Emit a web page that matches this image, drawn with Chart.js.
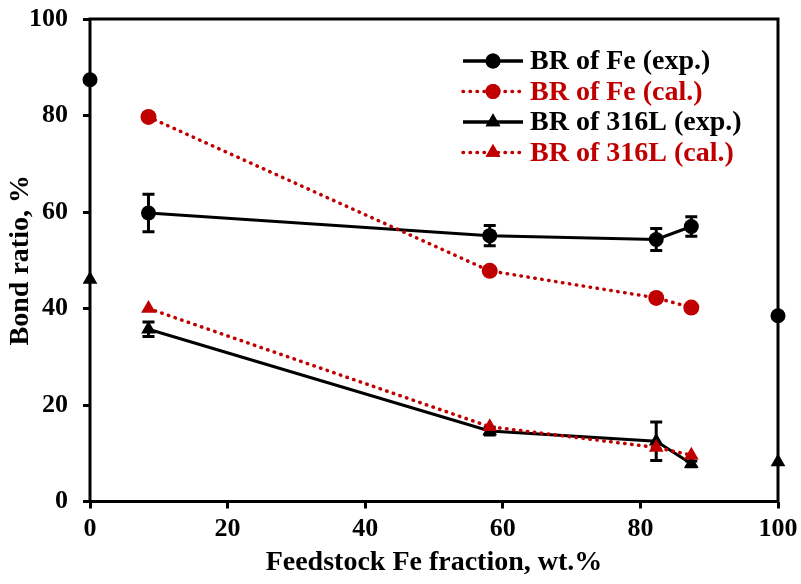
<!DOCTYPE html>
<html>
<head>
<meta charset="utf-8">
<script src="https://cdn.jsdelivr.net/npm/chart.js@4.4.1/dist/chart.umd.min.js"></script>
<style>
  html, body { margin: 0; padding: 0; background: #fff; }
  #wrap { width: 801px; height: 584px; }
</style>
</head>
<body>
<div id="wrap"><canvas id="bondChart" width="801" height="584"></canvas></div>
<script>
// Feedstock Fe fraction (wt.%) of the mixed feedstocks
var mixX = [8.5, 58.1, 82.3, 87.4];
var feExp = [59.8, 55.1, 54.3, 57.0];
var feExpErr = [3.9, 2.1, 2.3, 2.0];
var feCal = [79.7, 47.8, 42.2, 40.2];
var steelExp = [35.7, 14.6, 12.5, 7.8];
var steelExpErr = [1.5, 0.8, 4.0, 0.6];
var steelCal = [40.0, 15.5, 11.2, 9.6];

// pure feedstocks (not joined by the lines)
var pureX = [0, 100];
var pureFe = [87.4, 38.5];
var pureSteel = [46.0, 8.2];

var xTicks = [0, 20, 40, 60, 80, 100];
var yTicks = [0, 20, 40, 60, 80, 100];

var RED = '#c00000';
var FONT = '"Liberation Serif", "Times New Roman", serif';
var DOTS = [0.5, 6.5];

function pts(xs, ys) {
  return xs.map(function(x, i) { return { x: x, y: ys[i] }; });
}

// error bars drawn through the scales
var errorBars = {
  id: 'errorBars',
  beforeDatasetsDraw: function(chart) {
    var ctx = chart.ctx, xs = chart.scales.x, ys = chart.scales.y;
    var sets = [[feExp, feExpErr], [steelExp, steelExpErr]];
    ctx.save();
    ctx.strokeStyle = '#000';
    ctx.lineWidth = 3;
    sets.forEach(function(s) {
      s[0].forEach(function(v, i) {
        var px = xs.getPixelForValue(mixX[i]);
        var top = ys.getPixelForValue(v + s[1][i]);
        var bot = ys.getPixelForValue(v - s[1][i]);
        ctx.beginPath();
        ctx.moveTo(px, top); ctx.lineTo(px, bot);
        ctx.moveTo(px - 6, top); ctx.lineTo(px + 6, top);
        ctx.moveTo(px - 6, bot); ctx.lineTo(px + 6, bot);
        ctx.stroke();
      });
    });
    ctx.restore();
  }
};

// plot frame + legend with line/marker samples
var frameLegend = {
  id: 'frameLegend',
  beforeDatasetsDraw: function(chart) {
    var a = chart.chartArea, ctx = chart.ctx;
    ctx.save();
    ctx.strokeStyle = '#000';
    ctx.lineWidth = 3;
    ctx.strokeRect(a.left, a.top, a.right - a.left, a.bottom - a.top);
    ctx.restore();
  },
  afterDraw: function(chart) {
    var ctx = chart.ctx;
    var items = [
      { text: 'BR of Fe (exp.)', color: '#000', dash: [], shape: 'circle' },
      { text: 'BR of Fe (cal.)', color: RED, dash: DOTS, shape: 'circle' },
      { text: 'BR of 316L (exp.)', color: '#000', dash: [], shape: 'triangle' },
      { text: 'BR of 316L (cal.)', color: RED, dash: DOTS, shape: 'triangle' }
    ];
    var x0 = 463, x1 = 523, tx = 530, y0 = 61, dy = 30.5;
    ctx.save();
    ctx.font = 'bold 28px ' + FONT;
    ctx.textBaseline = 'middle';
    items.forEach(function(it, i) {
      var y = y0 + i * dy;
      ctx.strokeStyle = it.color;
      ctx.fillStyle = it.color;
      ctx.lineWidth = 3.5;
      ctx.lineCap = it.dash.length ? 'round' : 'butt';
      ctx.setLineDash(it.dash);
      ctx.beginPath();
      ctx.moveTo(x0, y); ctx.lineTo(x1, y);
      ctx.stroke();
      ctx.setLineDash([]);
      Chart.helpers.drawPoint(ctx, { pointStyle: it.shape, radius: it.shape === 'circle' ? 7.5 : 8.5, borderWidth: 0 }, (x0 + x1) / 2, y);
      ctx.fill();
      ctx.fillText(it.text, tx, y + 1);
    });
    ctx.restore();
  }
};

var canvas = document.getElementById('bondChart');
new Chart(canvas, {
  type: 'scatter',
  data: {
    datasets: [
      { label: 'BR of 316L (cal.)', data: pts(mixX, steelCal), showLine: true, order: 1,
        borderColor: RED, borderWidth: 3.5, borderDash: DOTS, borderCapStyle: 'round',
        pointStyle: 'triangle', pointRadius: 8.5, pointBackgroundColor: RED, pointBorderWidth: 0 },
      { label: 'BR of Fe (cal.)', data: pts(mixX, feCal), showLine: true, order: 2,
        borderColor: RED, borderWidth: 3.5, borderDash: DOTS, borderCapStyle: 'round',
        pointStyle: 'circle', pointRadius: 8, pointBackgroundColor: RED, pointBorderWidth: 0 },
      { label: 'BR of 316L (exp.)', data: pts(mixX, steelExp), showLine: true, order: 3,
        borderColor: '#000', borderWidth: 3,
        pointStyle: 'triangle', pointRadius: 8.5, pointBackgroundColor: '#000', pointBorderWidth: 0 },
      { label: 'BR of Fe (exp.)', data: pts(mixX, feExp), showLine: true, order: 4,
        borderColor: '#000', borderWidth: 3,
        pointStyle: 'circle', pointRadius: 7.5, pointBackgroundColor: '#000', pointBorderWidth: 0 },
      { label: 'Fe pure', data: pts(pureX, pureFe), showLine: false, order: 5,
        pointStyle: 'circle', pointRadius: 7.5, pointBackgroundColor: '#000', pointBorderWidth: 0 },
      { label: '316L pure', data: pts(pureX, pureSteel), showLine: false, order: 6,
        pointStyle: 'triangle', pointRadius: 8.5, pointBackgroundColor: '#000', pointBorderWidth: 0 }
    ]
  },
  options: {
    responsive: false,
    animation: false,
    clip: false,
    layout: { padding: { top: 19, right: 23, left: 0, bottom: 0 } },
    plugins: { legend: { display: false }, tooltip: { enabled: false } },
    scales: {
      x: {
        type: 'linear', min: 0, max: 100,
        afterFit: function(s) { s.height = 82.5; s.paddingLeft = 0; s.paddingRight = 0; },
        afterBuildTicks: function(s) { s.ticks = xTicks.map(function(v) { return { value: v }; }); },
        grid: { drawOnChartArea: false, drawTicks: true, tickLength: 7, color: '#000', lineWidth: 3 },
        border: { display: false },
        ticks: { color: '#000', padding: 5, font: { family: FONT, size: 26, weight: 'bold' } },
        title: { display: true, text: 'Feedstock Fe fraction, wt.%', color: '#000', padding: { top: 0 },
                 font: { family: FONT, size: 28, weight: 'bold' } }
      },
      y: {
        type: 'linear', min: 0, max: 100,
        afterFit: function(s) { s.width = 90; s.paddingTop = 0; s.paddingBottom = 0; },
        afterBuildTicks: function(s) { s.ticks = yTicks.map(function(v) { return { value: v }; }); },
        grid: { drawOnChartArea: false, drawTicks: true, tickLength: 7, color: '#000', lineWidth: 3 },
        border: { display: false },
        ticks: { color: '#000', padding: 15, font: { family: FONT, size: 26, weight: 'bold' } },
        title: { display: true, text: 'Bond ratio, %', color: '#000', padding: { bottom: 0 },
                 font: { family: FONT, size: 28, weight: 'bold' } }
      }
    }
  },
  plugins: [errorBars, frameLegend]
});
</script>
</body>
</html>
